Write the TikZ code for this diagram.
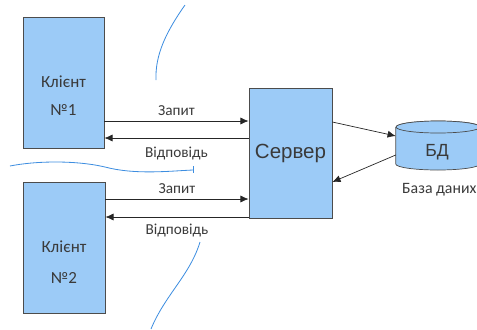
\documentclass[tikz,border=0pt]{standalone}
\usepackage{fontspec}
\setmainfont{Carlito}
\newfontfamily\arialf{Liberation Sans}
\usetikzlibrary{arrows.meta,positioning,calc}
\definecolor{boxblue}{HTML}{9CCBF7}
\definecolor{penblue}{HTML}{3E8EE0}
\definecolor{txtgray}{HTML}{3A3A3A}

\begin{document}
\begin{tikzpicture}[x=0.03cm,y=-0.03cm,
  blok/.style={draw=black!70,fill=boxblue,line width=0.6pt,inner sep=0pt,text=txtgray},
  arr/.style={-{Latex[length=7pt,width=6pt]},line width=0.6pt,black!85},
  lab/.style={text=txtgray,font=\fontsize{13}{14}\selectfont},
  pen/.style={penblue,line width=0.7pt}]
\useasboundingbox (0,0) rectangle (477,329);
\node[blok,minimum width=81*0.03cm,minimum height=131*0.03cm] (kl1) at (63.5,82.5) {};
\node[blok,minimum width=82*0.03cm,minimum height=131*0.03cm] (kl2) at (64,247.5) {};
\node[lab,font=\fontsize{14.5}{16}\selectfont] (kl1a) at (63.5,82) {Клієнт};
\node[lab,font=\fontsize{14.5}{16}\selectfont] (kl1b) at (63.5,110) {№1};
\node[lab,font=\fontsize{14.5}{16}\selectfont] (kl2a) at (64,247) {Клієнт};
\node[lab,font=\fontsize{14.5}{16}\selectfont] (kl2b) at (64,278) {№2};
\node[blok,minimum width=83*0.03cm,minimum height=130*0.03cm,font=\arialf\fontsize{17.5}{18}\selectfont] (srv) at (290.5,153) {Сервер};
% база даних
\node[minimum width=84*0.03cm,minimum height=49*0.03cm,inner sep=0pt] (bd) at (438,145.5) {};
\draw[blok] (bd.west |- 0,127) -- (bd.west |- 0,164) arc[start angle=180,end angle=360,x radius=1.26cm,y radius=0.18cm] -- (bd.east |- 0,127) arc[start angle=0,end angle=180,x radius=1.26cm,y radius=0.18cm];
\draw[blok] (438,127) ellipse [x radius=1.26cm,y radius=0.18cm];
\node[text=txtgray,font=\arialf\fontsize{15}{16}\selectfont] (bdt) at (437,152) {БД};
\node[lab,font=\fontsize{13.5}{14}\selectfont,right,inner sep=0pt] (bdlab) at (402,190) {База даних};
% запити i вiдповiдi
\draw[arr] (kl1.east |- 0,121) -- (srv.west |- 0,121) node[lab,midway,above=1pt] (z1) {Запит};
\draw[arr] (srv.west |- 0,138) -- (kl1.east |- 0,138) node[lab,midway,below=4pt] (v1) {Відповідь};
\draw[arr] (kl2.east |- 0,199) -- (srv.west |- 0,199) node[lab,midway,above=1pt] (z2) {Запит};
\draw[arr] (srv.west |- 0,217) -- (kl2.east |- 0,217) node[lab,midway,below=2pt] (v2) {Відповідь};
\draw[arr] (srv.east |- 0,122) -- (bd.west |- 0,136);
\draw[arr] (bd.west |- 0,155) -- (srv.east |- 0,182);
% лiнiї олiвцем
\draw[pen] (185,5) .. controls (166,32) and (155,55) .. (156,80);
\draw[pen] (10,166) .. controls (35,161) and (75,160) .. (105,167) .. controls (135,175) and (170,171) .. (193,170);
\draw[pen] (193,166) -- (193,173);
\draw[pen] (200,242) .. controls (190,275) and (165,295) .. (151,329);
\end{tikzpicture}
\end{document}
